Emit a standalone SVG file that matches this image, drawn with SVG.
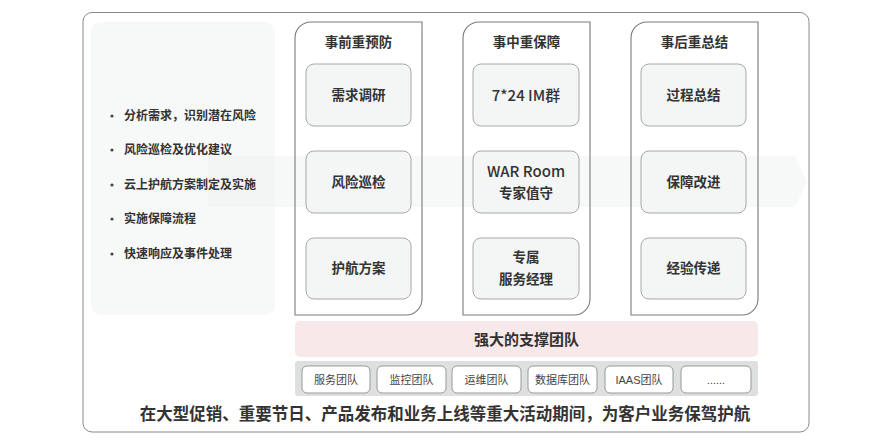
<svg xmlns="http://www.w3.org/2000/svg" width="892" height="440" viewBox="0 0 892 440">
<style>
text{font-family:"Liberation Sans","Noto Sans CJK SC",sans-serif;fill:#333;text-anchor:middle;dominant-baseline:central}
.b{font-weight:bold}
.bul{font-size:12px;font-weight:bold;text-anchor:start}
.hd{font-size:13.5px;font-weight:bold}
.in{font-size:13.5px;font-weight:bold}
.lat{font-family:"Noto Sans CJK SC","Liberation Sans",sans-serif;font-size:15px;font-weight:500}
.col{fill:none;stroke:#7a7a7a;stroke-width:1.1}
.box{fill:#f4f6f6;stroke:#a8a8a8;stroke-width:1}
.tm{fill:#fff;stroke:#999;stroke-width:1}
.tt{font-size:11px;fill:#444}
</style>
<rect width="892" height="440" fill="#fff"/>
<rect id="frame" x="83" y="12.5" width="726" height="419.5" rx="9" fill="#fff" stroke="#8a8a8a" stroke-width="1"/>
<g id="left-panel">
<rect x="91" y="22" width="184" height="293" rx="10" fill="#f7f9f9"/>
</g>
<g id="flow-arrow">
<path d="M208 156 H795 L807 181.5 L795 207 H208 Z" fill="#eef0f0" opacity="0.45"/>
</g>
<g id="bullets">
<circle cx="112" cy="116" r="1.6" fill="#444"/><text class="bul" x="124" y="116">分析需求，识别潜在风险</text>
<circle cx="112" cy="150" r="1.6" fill="#444"/><text class="bul" x="124" y="150">风险巡检及优化建议</text>
<circle cx="112" cy="185" r="1.6" fill="#444"/><text class="bul" x="124" y="185">云上护航方案制定及实施</text>
<circle cx="112" cy="219" r="1.6" fill="#444"/><text class="bul" x="124" y="219">实施保障流程</text>
<circle cx="112" cy="254" r="1.6" fill="#444"/><text class="bul" x="124" y="254">快速响应及事件处理</text>
</g>
<g id="col-before">
<path class="col" d="M311 22 H422 V299 A16 16 0 0 1 406 315 H295 V38 A16 16 0 0 1 311 22 Z"/>
<text class="hd" x="358.5" y="42">事前重预防</text>
<g id="n-xuqiu"><rect class="box" x="306" y="64" width="105" height="62" rx="8"/><text class="in" x="358.5" y="95">需求调研</text></g>
<g id="n-xunjian"><rect class="box" x="306" y="151" width="105" height="62" rx="8"/><text class="in" x="358.5" y="182">风险巡检</text></g>
<g id="n-fangan"><rect class="box" x="306" y="238" width="105" height="61" rx="8"/><text class="in" x="358.5" y="268.5">护航方案</text></g>
</g>
<g id="col-during">
<path class="col" d="M479 22 H590 V299 A16 16 0 0 1 574 315 H463 V38 A16 16 0 0 1 479 22 Z"/>
<text class="hd" x="526.5" y="42">事中重保障</text>
<g id="n-im"><rect class="box" x="473" y="64" width="106" height="62" rx="8"/><text class="lat" x="526" y="94.5">7*24 IM群</text></g>
<g id="n-war"><rect class="box" x="473" y="151" width="106" height="62" rx="8"/><text class="lat" x="526" y="170.5">WAR Room</text><text class="in" x="526" y="193">专家值守</text></g>
<g id="n-jingli"><rect class="box" x="473" y="238" width="106" height="61" rx="8"/><text class="in" x="526" y="257">专属</text><text class="in" x="526" y="279">服务经理</text></g>
</g>
<g id="col-after">
<path class="col" d="M647 22 H758 V299 A16 16 0 0 1 742 315 H631 V38 A16 16 0 0 1 647 22 Z"/>
<text class="hd" x="694.5" y="42">事后重总结</text>
<g id="n-zongjie"><rect class="box" x="641" y="64" width="105" height="62" rx="8"/><text class="in" x="693.5" y="95">过程总结</text></g>
<g id="n-gaijin"><rect class="box" x="641" y="151" width="105" height="62" rx="8"/><text class="in" x="693.5" y="182">保障改进</text></g>
<g id="n-chuandi"><rect class="box" x="641" y="238" width="105" height="61" rx="8"/><text class="in" x="693.5" y="268.5">经验传递</text></g>
</g>
<g id="support">
<rect x="295" y="321" width="463" height="36" rx="5" fill="#f7e9e9"/>
<text class="b" x="526.5" y="339" style="font-size:15px">强大的支撑团队</text>
</g>
<g id="teams">
<rect x="295" y="361" width="463" height="35" rx="3" fill="#dedfdf"/>
<g id="t1"><rect class="tm" x="302" y="366" width="68" height="27" rx="5"/><text class="tt" x="336" y="379.5">服务团队</text></g>
<g id="t2"><rect class="tm" x="377" y="366" width="69" height="27" rx="5"/><text class="tt" x="411.5" y="379.5">监控团队</text></g>
<g id="t3"><rect class="tm" x="452" y="366" width="69" height="27" rx="5"/><text class="tt" x="486.5" y="379.5">运维团队</text></g>
<g id="t4"><rect class="tm" x="528" y="366" width="69" height="27" rx="5"/><text class="tt" x="562.5" y="379.5">数据库团队</text></g>
<g id="t5"><rect class="tm" x="605" y="366" width="68" height="27" rx="5"/><text class="tt" x="639" y="379.5">IAAS团队</text></g>
<g id="t6"><rect class="tm" x="681" y="366" width="70" height="27" rx="5"/><text class="tt" x="716" y="379.5">......</text></g>
</g>
<g id="connectors"></g>
<text id="caption" class="b" x="445" y="414" style="font-size:16.5px">在大型促销、重要节日、产品发布和业务上线等重大活动期间，为客户业务保驾护航</text>
</svg>
